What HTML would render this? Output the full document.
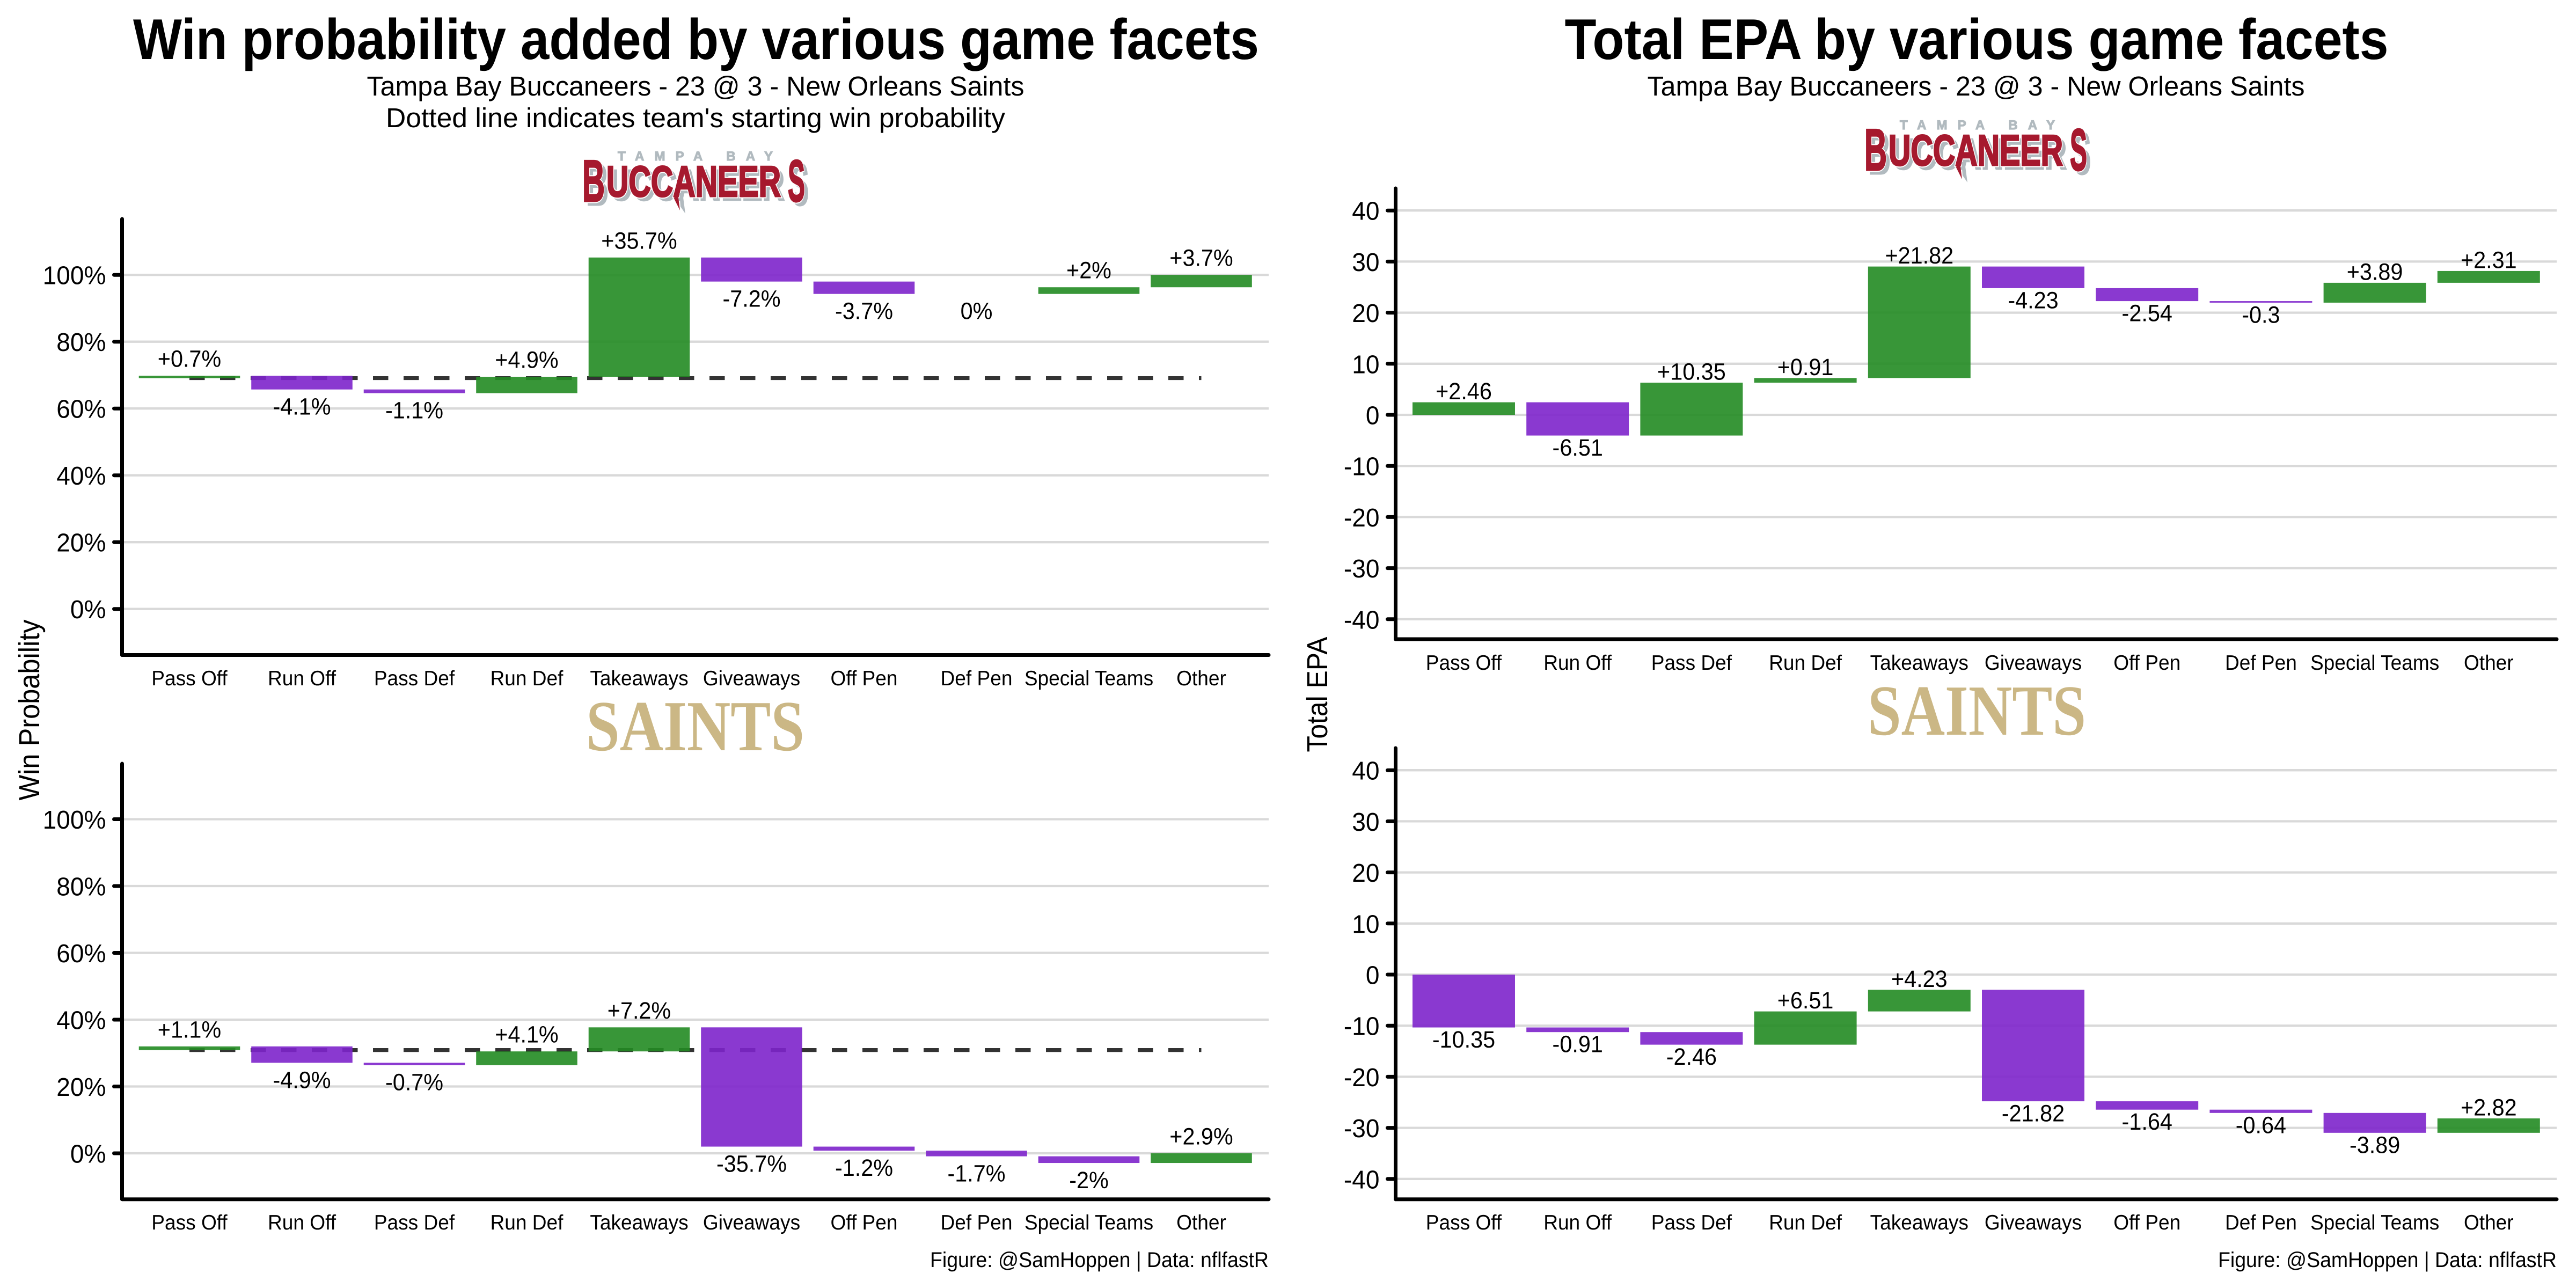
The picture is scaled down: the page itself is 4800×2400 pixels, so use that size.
<!DOCTYPE html>
<html lang="en">
<head>
<meta charset="utf-8">
<title>Win probability and EPA by game facets</title>
<style>
html,body{margin:0;padding:0;background:#fff;width:4800px;height:2400px;overflow:hidden}
svg{display:block;text-rendering:geometricPrecision}
text{font-family:"Liberation Sans",sans-serif;fill:#000}
.title{font-size:107px;font-weight:700;text-anchor:middle}
.sub{font-size:51px;text-anchor:middle}
.cap{font-size:40px;text-anchor:end}
.ytitle{font-size:54px;text-anchor:middle}
.bc{font-weight:700;fill:#a6192e;stroke:#a6192e;stroke-width:3}
.bw{font-weight:700;fill:#fff;stroke:#fff;stroke-width:7}
.bs{font-weight:700;fill:#b1babf;stroke:#b1babf;stroke-width:3}
.tb{font-weight:700;font-size:24px;fill:#b1babf;stroke:#b1babf;stroke-width:1.2}
.st{font-family:"Liberation Serif",serif;font-weight:700;font-size:134px;fill:#cbb785}
</style>
</head>
<body>
<svg id="chart" xmlns="http://www.w3.org/2000/svg" width="4800" height="2400" viewBox="0 0 4800 2400">
  <rect x="0" y="0" width="4800" height="2400" fill="#fff"/>

  <text class="title" x="1297" y="110" textLength="2098" lengthAdjust="spacingAndGlyphs">Win probability added by various game facets</text>
  <text class="sub" x="1296" y="178" textLength="1225" lengthAdjust="spacingAndGlyphs">Tampa Bay Buccaneers - 23 @ 3 - New Orleans Saints</text>
  <text class="sub" x="1296" y="237" textLength="1154" lengthAdjust="spacingAndGlyphs">Dotted line indicates team's starting win probability</text>

  <text class="title" x="3683" y="110" textLength="1535" lengthAdjust="spacingAndGlyphs">Total EPA by various game facets</text>
  <text class="sub" x="3682" y="178" textLength="1225" lengthAdjust="spacingAndGlyphs">Tampa Bay Buccaneers - 23 @ 3 - New Orleans Saints</text>

  <g>
    <text class="tb" x="1151" y="299" textLength="289" lengthAdjust="spacing">TAMPA BAY</text>
    <text class="bs" x="1137" y="373" font-size="81" textLength="325" lengthAdjust="spacingAndGlyphs">UCCANEER</text>
    <text class="bs" x="1092" y="382" font-size="110" textLength="42" lengthAdjust="spacingAndGlyphs">B</text>
    <text class="bs" x="1475" y="382" font-size="110" textLength="32" lengthAdjust="spacingAndGlyphs">S</text>
    <text class="bw" x="1130" y="366" font-size="81" textLength="325" lengthAdjust="spacingAndGlyphs">UCCANEER</text>
    <text class="bw" x="1085" y="375" font-size="110" textLength="42" lengthAdjust="spacingAndGlyphs">B</text>
    <text class="bw" x="1468" y="375" font-size="110" textLength="32" lengthAdjust="spacingAndGlyphs">S</text>
    <text class="bc" x="1130" y="366" font-size="81" textLength="325" lengthAdjust="spacingAndGlyphs">UCCANEER</text>
    <text class="bc" x="1085" y="375" font-size="110" textLength="42" lengthAdjust="spacingAndGlyphs">B</text>
    <text class="bc" x="1468" y="375" font-size="110" textLength="32" lengthAdjust="spacingAndGlyphs">S</text>
    <polygon points="1266,360 1272,360 1277,398 1268,385" fill="#b1babf"/>
    <polygon points="1262,335 1270,335 1263,360 1267,392 1256,370" fill="#a6192e"/>
  </g>
  <g transform="translate(2389,-58)">
    <text class="tb" x="1151" y="299" textLength="289" lengthAdjust="spacing">TAMPA BAY</text>
    <text class="bs" x="1137" y="373" font-size="81" textLength="325" lengthAdjust="spacingAndGlyphs">UCCANEER</text>
    <text class="bs" x="1092" y="382" font-size="110" textLength="42" lengthAdjust="spacingAndGlyphs">B</text>
    <text class="bs" x="1475" y="382" font-size="110" textLength="32" lengthAdjust="spacingAndGlyphs">S</text>
    <text class="bw" x="1130" y="366" font-size="81" textLength="325" lengthAdjust="spacingAndGlyphs">UCCANEER</text>
    <text class="bw" x="1085" y="375" font-size="110" textLength="42" lengthAdjust="spacingAndGlyphs">B</text>
    <text class="bw" x="1468" y="375" font-size="110" textLength="32" lengthAdjust="spacingAndGlyphs">S</text>
    <text class="bc" x="1130" y="366" font-size="81" textLength="325" lengthAdjust="spacingAndGlyphs">UCCANEER</text>
    <text class="bc" x="1085" y="375" font-size="110" textLength="42" lengthAdjust="spacingAndGlyphs">B</text>
    <text class="bc" x="1468" y="375" font-size="110" textLength="32" lengthAdjust="spacingAndGlyphs">S</text>
    <polygon points="1266,360 1272,360 1277,398 1268,385" fill="#b1babf"/>
    <polygon points="1262,335 1270,335 1263,360 1267,392 1256,370" fill="#a6192e"/>
  </g>
  <text class="st" x="1092" y="1398" textLength="407" lengthAdjust="spacingAndGlyphs">SAINTS</text>
  <text class="st" x="3480" y="1369" textLength="407" lengthAdjust="spacingAndGlyphs">SAINTS</text>

  <text class="ytitle" transform="translate(73,1323) rotate(-90)" textLength="337" lengthAdjust="spacingAndGlyphs">Win Probability</text>
  <text class="ytitle" transform="translate(2473,1294) rotate(-90)" textLength="215" lengthAdjust="spacingAndGlyphs">Total EPA</text>

  <text class="cap" x="2364" y="2361" textLength="631" lengthAdjust="spacingAndGlyphs">Figure: @SamHoppen | Data: nflfastR</text>
  <text class="cap" x="4764" y="2361" textLength="631" lengthAdjust="spacingAndGlyphs">Figure: @SamHoppen | Data: nflfastR</text>
</svg>

<script>
const categories = ['Pass Off','Run Off','Pass Def','Run Def','Takeaways','Giveaways','Off Pen','Def Pen','Special Teams','Other'];
const wpBucsDeltas = [0.7,-4.1,-1.1,4.9,35.7,-7.2,-3.7,0,2,3.7];
const wpSaintsDeltas = [1.1,-4.9,-0.7,4.1,7.2,-35.7,-1.2,-1.7,-2,2.9];
const epaBucsDeltas = [2.46,-6.51,10.35,0.91,21.82,-4.23,-2.54,-0.3,3.89,2.31];
const epaSaintsDeltas = [-10.35,-0.91,-2.46,6.51,4.23,-21.82,-1.64,-0.64,-3.89,2.82];
const wpBucsStart = 69.1;
const wpSaintsStart = 30.9;
const epaStart = 0;
const wpTicks = [0,20,40,60,80,100];
const epaTicks = [-40,-30,-20,-10,0,10,20,30,40];

const SVGNS = 'http://www.w3.org/2000/svg';
const root = document.getElementById('chart');
const GREEN = '#228b22';
const PURPLE = '#7d24cb';

function make(parent, tag, attrs, text) {
  const el = document.createElementNS(SVGNS, tag);
  for (const k in attrs) el.setAttribute(k, attrs[k]);
  if (text !== undefined) el.textContent = text;
  parent.appendChild(el);
  return el;
}
function squeeze(el, k) {
  el.setAttribute('textLength', (el.getComputedTextLength() * k).toFixed(1));
  el.setAttribute('lengthAdjust', 'spacingAndGlyphs');
}

function drawPanel(name, layout, deltas, start, ticks, suffix, showStart) {
  const xScale = i => layout.x0 + layout.step * i;
  const yScale = v => layout.zeroY - v * layout.unit;
  const barW = layout.step * 0.9;

  const panel = make(root, 'g', {});
  
  

  ticks.forEach(t => {
    const grid = make(panel, 'line', {x1: layout.left, x2: layout.right, y1: yScale(t), y2: yScale(t), stroke: '#d9d9d9', 'stroke-width': 4.3});
    
    
  });

  if (showStart) {
    const dash = make(panel, 'line', {x1: xScale(0), x2: xScale(categories.length - 1), y1: yScale(start), y2: yScale(start), stroke: '#333', 'stroke-width': 7.2, 'stroke-dasharray': '28.5 28.5'});
    
    
  }

  let running = start;
  const tops = [];
  deltas.forEach((d, i) => {
    const from = running;
    const to = running + d;
    running = to;
    const yA = yScale(Math.max(from, to));
    const yB = yScale(Math.min(from, to));
    tops.push([yA, yB]);
    const bar = make(panel, 'rect', {x: xScale(i) - barW / 2, y: yA, width: barW, height: yB - yA, fill: d > 0 ? GREEN : PURPLE, 'fill-opacity': 0.9});
    
    
  });

  const yAxis = make(panel, 'line', {x1: layout.left, x2: layout.left, y1: layout.top, y2: layout.bottom, stroke: '#000', 'stroke-width': 7, 'stroke-linecap': 'round'});
  
  
  const xAxis = make(panel, 'line', {x1: layout.left, x2: layout.right, y1: layout.bottom, y2: layout.bottom, stroke: '#000', 'stroke-width': 7, 'stroke-linecap': 'round'});
  
  

  ticks.forEach(t => {
    const mark = make(panel, 'line', {x1: layout.left - 15, x2: layout.left, y1: yScale(t), y2: yScale(t), stroke: '#000', 'stroke-width': 7, 'stroke-linecap': 'round'});
    
    
    const lab = make(panel, 'text', {x: layout.left - 30, y: yScale(t) + 17.5, 'font-size': 48, 'text-anchor': 'end'}, t + suffix);
    
    
    squeeze(lab, 0.96);
  });

  categories.forEach((c, i) => {
    const lab = make(panel, 'text', {x: xScale(i), y: layout.labelY, 'font-size': 39, 'text-anchor': 'middle'}, c);
    
    
    squeeze(lab, 0.95);
  });

  deltas.forEach((d, i) => {
    const text = (d > 0 ? '+' : '') + d + suffix;
    const y = d > 0 ? tops[i][0] - layout.gapUp : tops[i][1] + layout.gapDown;
    const lab = make(panel, 'text', {x: xScale(i), y: y, 'font-size': 44, 'text-anchor': 'middle'}, text);
    
    
    squeeze(lab, 0.94);
  });
}

drawPanel('buccaneers-win-probability-panel',
  {left: 227.5, right: 2364, x0: 353, step: 209.5, top: 408, bottom: 1220.5, zeroY: 1134.7, unit: 6.225, labelY: 1277, gapUp: 16.5, gapDown: 47},
  wpBucsDeltas, wpBucsStart, wpTicks, '%', true);
drawPanel('saints-win-probability-panel',
  {left: 227.5, right: 2364, x0: 353, step: 209.5, top: 1423, bottom: 2234.7, zeroY: 2149, unit: 6.225, labelY: 2291, gapUp: 16.5, gapDown: 47},
  wpSaintsDeltas, wpSaintsStart, wpTicks, '%', true);
drawPanel('buccaneers-epa-panel',
  {left: 2600.5, right: 4764, x0: 2727.5, step: 212.2, top: 351, bottom: 1191, zeroY: 773, unit: 9.52, labelY: 1248, gapUp: 5.5, gapDown: 37.5},
  epaBucsDeltas, epaStart, epaTicks, '', false);
drawPanel('saints-epa-panel',
  {left: 2600.5, right: 4764, x0: 2727.5, step: 212.2, top: 1394, bottom: 2234.7, zeroY: 1816, unit: 9.52, labelY: 2291, gapUp: 5.5, gapDown: 37.5},
  epaSaintsDeltas, epaStart, epaTicks, '', false);
</script>
</body>
</html>
